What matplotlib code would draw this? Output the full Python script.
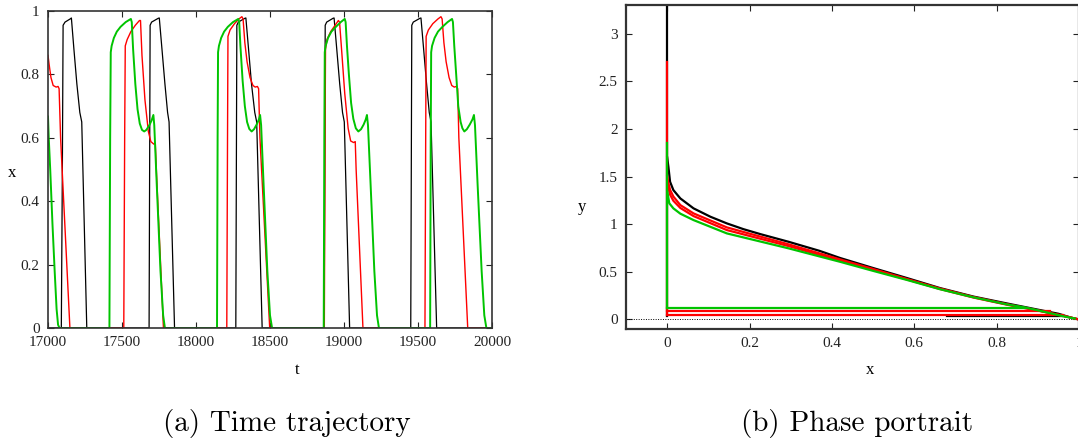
import numpy as np
import matplotlib
matplotlib.use("Agg")
import matplotlib.pyplot as plt

# time trajectory
black_t = [17000, 17090, 17097, 17102, 17115, 17150, 17158, 17175, 17195, 17215, 17228, 17262,
           17683, 17690, 17700, 17745, 17752, 17770, 17790, 17808, 17818, 17855,
           18269, 18276, 18286, 18330, 18337, 18355, 18375, 18397, 18410, 18447,
           18866, 18873, 18883, 18926, 18933, 18951, 18971, 18990, 19002, 19038,
           19451, 19458, 19468, 19513, 19520, 19538, 19558, 19576, 19588, 19626, 20000]
black_x = [0, 0, 0.5, 0.955, 0.965, 0.975, 0.978, 0.88, 0.77, 0.68, 0.65, 0,
           0, 0.955, 0.965, 0.977, 0.978, 0.88, 0.77, 0.68, 0.65, 0,
           0, 0.955, 0.965, 0.977, 0.978, 0.88, 0.77, 0.68, 0.65, 0,
           0, 0.955, 0.965, 0.977, 0.978, 0.88, 0.77, 0.68, 0.65, 0,
           0, 0.955, 0.965, 0.977, 0.978, 0.88, 0.77, 0.68, 0.65, 0, 0]

red_t = [17000, 17008, 17020, 17035, 17055, 17068, 17075, 17085, 17148,
         17512, 17518, 17522, 17535, 17560, 17590, 17618, 17625, 17635, 17655, 17678, 17695, 17715, 17725, 17732, 17780,
         18208, 18213, 18216, 18230, 18260, 18290, 18310, 18318, 18330, 18345, 18365, 18385, 18400, 18415, 18423, 18432, 18498,
         18867, 18872, 18875, 18885, 18910, 18940, 18962, 18970, 18985, 19005, 19028, 19045, 19065, 19076, 19082, 19128,
         19547, 19552, 19555, 19570, 19600, 19635, 19655, 19663, 19675, 19690, 19710, 19728, 19745, 19760, 19768, 19776, 19836, 20000]
red_x = [0.86, 0.83, 0.79, 0.765, 0.76, 0.762, 0.755, 0.6, 0,
         0, 0.6, 0.89, 0.91, 0.935, 0.955, 0.97, 0.97, 0.86, 0.72, 0.62, 0.588, 0.58, 0.583, 0.5, 0,
         0, 0.6, 0.92, 0.94, 0.96, 0.975, 0.982, 0.975, 0.9, 0.84, 0.79, 0.765, 0.76, 0.762, 0.755, 0.6, 0,
         0, 0.6, 0.88, 0.91, 0.935, 0.955, 0.97, 0.965, 0.87, 0.74, 0.63, 0.59, 0.585, 0.588, 0.5, 0,
         0, 0.6, 0.92, 0.94, 0.96, 0.975, 0.982, 0.975, 0.9, 0.84, 0.79, 0.765, 0.76, 0.762, 0.755, 0.6, 0, 0]

green_t = [17000, 17005, 17015, 17030, 17045, 17058, 17068, 17078,
           17415, 17420, 17424, 17430, 17445, 17465, 17490, 17525, 17560, 17566, 17575, 17590, 17605, 17620,
           17635, 17650, 17665, 17685, 17700, 17712, 17718, 17735, 17760, 17778, 17790,
           18142, 18146, 18149, 18155, 18170, 18190, 18215, 18250, 18286, 18292, 18300, 18315, 18330, 18345,
           18360, 18376, 18392, 18410, 18425, 18433, 18440, 18457, 18482, 18500, 18514,
           18863, 18867, 18870, 18876, 18892, 18915, 18945, 18978, 19005, 19011, 19020, 19033, 19048, 19063,
           19080, 19097, 19115, 19133, 19147, 19155, 19162, 19180, 19205, 19223, 19236,
           19582, 19586, 19589, 19595, 19612, 19635, 19665, 19700, 19730, 19736, 19745, 19758, 19772, 19788,
           19800, 19813, 19830, 19850, 19868, 19878, 19885, 19903, 19930, 19948, 19962, 20000]
green_x = [0.667, 0.6, 0.5, 0.33, 0.18, 0.06, 0.01, 0,
           0, 0.6, 0.87, 0.89, 0.915, 0.935, 0.95, 0.965, 0.975, 0.965, 0.88, 0.77, 0.69, 0.645,
           0.625, 0.62, 0.625, 0.64, 0.655, 0.672, 0.64, 0.45, 0.18, 0.04, 0,
           0, 0.6, 0.87, 0.89, 0.915, 0.935, 0.95, 0.965, 0.975, 0.965, 0.89, 0.78, 0.7, 0.65,
           0.628, 0.62, 0.627, 0.642, 0.658, 0.672, 0.64, 0.45, 0.18, 0.04, 0,
           0, 0.6, 0.87, 0.89, 0.915, 0.935, 0.95, 0.965, 0.975, 0.965, 0.89, 0.8, 0.71, 0.66,
           0.63, 0.62, 0.627, 0.642, 0.658, 0.672, 0.64, 0.45, 0.18, 0.04, 0,
           0, 0.6, 0.87, 0.89, 0.915, 0.935, 0.95, 0.965, 0.975, 0.965, 0.89, 0.8, 0.7, 0.65,
           0.63, 0.62, 0.627, 0.642, 0.658, 0.672, 0.64, 0.45, 0.18, 0.04, 0, 0]

# phase portrait curves
black_cx = [0, 0.003, 0.007, 0.015, 0.032, 0.064, 0.105, 0.145, 0.185, 0.226, 0.295, 0.37, 0.42, 0.5, 0.582, 0.662, 0.744, 0.825, 0.906, 0.95, 0.98, 1.0]
black_cy = [1.70, 1.60, 1.445, 1.358, 1.27, 1.166, 1.078, 1.008, 0.948, 0.896, 0.815, 0.72, 0.645, 0.54, 0.435, 0.33, 0.24, 0.168, 0.098, 0.06, 0.02, 0.0]
red1_cx = [0, 0.002, 0.007, 0.015, 0.032, 0.064, 0.145, 0.295, 0.42, 0.5, 0.582, 0.662, 0.744, 0.825, 0.906, 0.96, 1.0]
red1_cy = [1.50, 1.45, 1.36, 1.29, 1.2, 1.113, 0.966, 0.788, 0.63, 0.53, 0.425, 0.325, 0.235, 0.16, 0.09, 0.04, 0.0]
red2_cx = [0, 0.002, 0.007, 0.015, 0.032, 0.064, 0.145, 0.295, 0.42, 0.5, 0.582, 0.662, 0.744, 0.825, 0.906, 0.96, 1.0]
red2_cy = [1.45, 1.40, 1.31, 1.246, 1.17, 1.085, 0.938, 0.77, 0.615, 0.52, 0.42, 0.32, 0.23, 0.155, 0.088, 0.04, 0.0]
green_cx = [0, 0.002, 0.005, 0.015, 0.032, 0.064, 0.145, 0.295, 0.42, 0.5, 0.582, 0.662, 0.744, 0.825, 0.87, 0.906, 0.96, 0.99]
green_cy = [1.35, 1.30, 1.22, 1.166, 1.11, 1.043, 0.903, 0.746, 0.605, 0.51, 0.415, 0.318, 0.232, 0.158, 0.125, 0.09, 0.035, 0.01]

# vertical runs at x=0 (y from, y to) and horizontal jumps (y, x from, x to)
black_vert = [0.035, 3.4]
red_vert = [0.05, 2.7]
green_vert = [0.125, 1.85]
black_hor = [(0.035, 0.68, 0.96)]
red_hor = [(0.085, 0.0, 0.93), (0.05, 0.0, 0.96)]
green_hor = [(0.125, 0.0, 0.87)]

BLACK, RED, GREEN = "#000000", "#ff0000", "#00c400"
tick_font = {"family": "Liberation Serif", "size": 11}
LW2 = 1.6

fig = plt.figure(figsize=(10.78, 4.4), dpi=100)
ax1 = fig.add_axes([48 / 1078, 112 / 440, 444 / 1078, 317 / 440])
ax2 = fig.add_axes([626 / 1078, 111 / 440, 453 / 1078, 324 / 440])

ax1.plot(black_t, black_x, color=BLACK, lw=0.9)
ax1.plot(red_t, red_x, color=RED, lw=1.0)
ax1.plot(green_t, green_x, color=GREEN, lw=1.4)
ax1.set_xlim(17000, 20000)
ax1.set_ylim(0, 1)
ax1.set_xticks([17000, 17500, 18000, 18500, 19000, 19500, 20000])
ax1.set_yticks([0, 0.2, 0.4, 0.6, 0.8, 1])
ax1.set_yticklabels(["0", "0.2", "0.4", "0.6", "0.8", "1"])

# phase portrait
ax2.axhline(0, color="black", lw=0.7, ls=(0, (1, 1.5)))
ax2.plot([0, 0], black_vert, color=BLACK, lw=LW2)
for y, a, b in black_hor:
    ax2.plot([a, b], [y, y], color=BLACK, lw=LW2)
ax2.plot(black_cx, black_cy, color=BLACK, lw=LW2)
ax2.plot([0, 0], red_vert, color=RED, lw=LW2)
for y, a, b in red_hor:
    ax2.plot([a, b], [y, y], color=RED, lw=LW2)
ax2.plot(red1_cx, red1_cy, color=RED, lw=LW2)
ax2.plot(red2_cx, red2_cy, color=RED, lw=LW2)
ax2.plot([0, 0], green_vert, color=GREEN, lw=LW2)
for y, a, b in green_hor:
    ax2.plot([a, b], [y, y], color=GREEN, lw=LW2)
ax2.plot(green_cx, green_cy, color=GREEN, lw=LW2)
ax2.set_xlim(-0.1, 1.0)
ax2.set_ylim(-0.1, 3.3)
ax2.set_xticks([0, 0.2, 0.4, 0.6, 0.8, 1])
ax2.set_xticklabels(["0", "0.2", "0.4", "0.6", "0.8", "1"])
ax2.set_yticks([0, 0.5, 1, 1.5, 2, 2.5, 3])
ax2.set_yticklabels(["0", "0.5", "1", "1.5", "2", "2.5", "3"])

for ax, sw in [(ax1, 1.2), (ax2, 1.6)]:
    for s in ax.spines.values():
        s.set_linewidth(sw)
        s.set_color("#333333")
    ax.tick_params(direction="in", length=4, width=0.8, top=True, right=True, pad=6,
                   colors="#222222")
    for lab in ax.get_xticklabels() + ax.get_yticklabels():
        lab.set_fontfamily(tick_font["family"])
        lab.set_fontsize(tick_font["size"])

fig.text(12 / 1078, 1 - 173 / 440, "x", family="Liberation Serif", size=12, ha="center", va="center")
fig.text(297 / 1078, 1 - 370 / 440, "t", family="Liberation Serif", size=12, ha="center", va="center")
fig.text(582 / 1078, 1 - 207 / 440, "y", family="Liberation Serif", size=12, ha="center", va="center")
fig.text(870 / 1078, 1 - 370 / 440, "x", family="Liberation Serif", size=12, ha="center", va="center")

fig.text(287 / 1078, 1 - 423 / 440, "(a) Time trajectory", family="cmr10", size=21, ha="center", va="center")
fig.text(857 / 1078, 1 - 423 / 440, "(b) Phase portrait", family="cmr10", size=21, ha="center", va="center")

fig.savefig("out.png", dpi=100)
